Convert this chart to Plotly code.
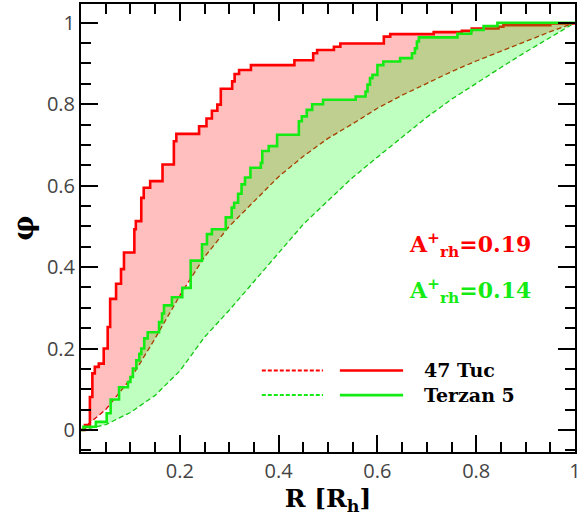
import plotly.graph_objects as go

# ---------------- data ----------------
# reference (dashed) cumulative curves
ref_tuc_r = [0, 0.05, 0.1, 0.15, 0.2, 0.25, 0.3, 0.35, 0.4, 0.45, 0.5,
             0.55, 0.6, 0.65, 0.7, 0.75, 0.8, 0.85, 0.9, 0.95, 1.0]
ref_tuc_phi = [0, 0.05, 0.125, 0.225, 0.33, 0.425, 0.5, 0.562, 0.622, 0.672, 0.716,
               0.752, 0.79, 0.822, 0.852, 0.88, 0.906, 0.93, 0.955, 0.978, 1.0]

ref_ter_r = [0, 0.05, 0.1, 0.15, 0.2, 0.25, 0.3, 0.35, 0.4, 0.45, 0.5,
             0.55, 0.6, 0.65, 0.7, 0.75, 0.8, 0.85, 0.9, 0.95, 1.0]
ref_ter_phi = [0, 0.013, 0.043, 0.085, 0.145, 0.228, 0.294, 0.365, 0.435, 0.505, 0.563,
               0.62, 0.67, 0.72, 0.768, 0.812, 0.852, 0.89, 0.928, 0.965, 1.0]

# observed cumulative step curves
tuc_r = [0, 0.008, 0.018, 0.023, 0.028, 0.036, 0.046, 0.054, 0.059, 0.071, 0.081,
         0.087, 0.108, 0.111, 0.122, 0.127, 0.14, 0.165, 0.188, 0.193, 0.239,
         0.254, 0.265, 0.276, 0.283, 0.306, 0.311, 0.32, 0.344, 0.432, 0.47,
         0.478, 0.512, 0.525, 0.613, 0.626, 0.714, 0.771, 0.791, 0.845, 0.855,
         0.95, 1.0]
tuc_phi = [0, 0.012, 0.081, 0.139, 0.155, 0.163, 0.2, 0.253, 0.322, 0.359, 0.395,
           0.436, 0.493, 0.513, 0.57, 0.595, 0.611, 0.652, 0.709, 0.727, 0.746,
           0.765, 0.784, 0.799, 0.838, 0.856, 0.874, 0.884, 0.896, 0.908, 0.925,
           0.933, 0.941, 0.949, 0.966, 0.972, 0.977, 0.98, 0.986, 0.99, 0.994,
           0.998, 1.0]

ter_r = [0, 0.005, 0.03, 0.052, 0.06, 0.077, 0.095, 0.1, 0.105, 0.112, 0.118,
         0.122, 0.128, 0.135, 0.158, 0.164, 0.168, 0.184, 0.205, 0.222, 0.245,
         0.255, 0.265, 0.293, 0.305, 0.31, 0.318, 0.325, 0.332, 0.343, 0.364,
         0.367, 0.38, 0.397, 0.441, 0.447, 0.457, 0.468, 0.49, 0.556, 0.576,
         0.58, 0.585, 0.59, 0.6, 0.612, 0.646, 0.67, 0.676, 0.68, 0.684,
         0.762, 0.79, 0.815, 0.843, 1.0]
ter_phi = [0, 0.008, 0.02, 0.041, 0.075, 0.105, 0.118, 0.13, 0.151, 0.171, 0.187,
           0.2, 0.225, 0.24, 0.265, 0.286, 0.306, 0.326, 0.349, 0.416, 0.456,
           0.481, 0.493, 0.522, 0.546, 0.558, 0.58, 0.603, 0.62, 0.644, 0.656,
           0.685, 0.697, 0.725, 0.758, 0.77, 0.786, 0.8, 0.811, 0.819, 0.831,
           0.848, 0.864, 0.872, 0.896, 0.905, 0.913, 0.925, 0.937, 0.954, 0.964,
           0.973, 0.982, 0.992, 1.0, 1.0]

series_names = ["47 Tuc", "Terzan 5"]
a_labels = ["A<sup>+</sup><sub>rh</sub>=0.19", "A<sup>+</sup><sub>rh</sub>=0.14"]

RED = "rgb(255,0,0)"
GREEN = "rgb(20,235,20)"
RED_FILL = "rgba(255,0,0,0.25)"
GREEN_FILL = "rgba(0,255,0,0.25)"
SERIF = "DejaVu Serif"

fig = go.Figure()
fig.add_trace(go.Scatter(x=ref_tuc_r, y=ref_tuc_phi, mode="lines",
                         line=dict(color="rgb(220,0,0)", width=1.3, dash="5px,3px"),
                         showlegend=False))
fig.add_trace(go.Scatter(x=tuc_r, y=tuc_phi, mode="lines", line_shape="hv",
                         line=dict(color=RED, width=2.6), fill="tonexty",
                         fillcolor=RED_FILL, showlegend=False))
fig.add_trace(go.Scatter(x=ref_ter_r, y=ref_ter_phi, mode="lines",
                         line=dict(color="rgb(20,200,20)", width=1.3, dash="5px,3px"),
                         showlegend=False))
fig.add_trace(go.Scatter(x=ter_r, y=ter_phi, mode="lines", line_shape="hv",
                         line=dict(color=GREEN, width=2.6), fill="tonexty",
                         fillcolor=GREEN_FILL, showlegend=False))

tickfont = dict(family="Open Sans", size=20, color="#444")
common = dict(showline=True, linewidth=2, linecolor="black", mirror="allticks",
              ticks="inside", ticklen=17, tickwidth=1.5, tickcolor="black",
              showgrid=False, zeroline=False, tickfont=tickfont)

fig.update_xaxes(range=[0, 1], tickmode="array",
                 tickvals=[0.2, 0.4, 0.6, 0.8, 1.0],
                 ticktext=["0.2", "0.4", "0.6", "0.8", "1"],
                 minor=dict(ticks="inside", ticklen=10, tickwidth=1.5, tickcolor="black",
                            tick0=0, dtick=0.05, showgrid=False),
                 title=dict(text="<b>R [R<sub>h</sub>]</b>",
                            font=dict(family=SERIF, size=25, color="black"), standoff=5),
                 **common)
fig.update_yaxes(range=[-0.054, 1.046], tickmode="linear", tick0=0, dtick=0.2,
                 minor=dict(ticks="inside", ticklen=10, tickwidth=1.5, tickcolor="black",
                            tick0=0, dtick=0.05, showgrid=False),
                 title=dict(text="<b>φ</b>",
                            font=dict(family=SERIF, size=28, color="black"), standoff=5),
                 **common)

# legend drawn manually (two samples per entry, as in the reference)
leg_y = [0.182, 0.127]
leg_colors = [RED, GREEN]
shapes = []
annotations = []
for name, yy, col in zip(series_names, leg_y, leg_colors):
    shapes.append(dict(type="line", xref="paper", yref="paper", x0=0.366, x1=0.490,
                       y0=yy, y1=yy, line=dict(color=col, width=2, dash="4px,2px")))
    shapes.append(dict(type="line", xref="paper", yref="paper", x0=0.524, x1=0.652,
                       y0=yy, y1=yy, line=dict(color=col, width=2.6)))
    annotations.append(dict(xref="paper", yref="paper", x=0.690, y=yy, xanchor="left",
                            yanchor="middle", showarrow=False, text="<b>%s</b>" % name,
                            font=dict(family=SERIF, size=19, color="black")))

for txt, yy, col in zip(a_labels, [0.455, 0.342], [RED, GREEN]):
    annotations.append(dict(xref="x", yref="y", x=0.66, y=yy, xanchor="left",
                            yanchor="middle", showarrow=False, text="<b>%s</b>" % txt,
                            font=dict(family=SERIF, size=22, color=col)))

fig.update_layout(width=585, height=518, margin=dict(l=81, r=10, t=2, b=66),
                  plot_bgcolor="white", paper_bgcolor="white",
                  shapes=shapes, annotations=annotations, showlegend=False)

fig.write_html("out.html")
